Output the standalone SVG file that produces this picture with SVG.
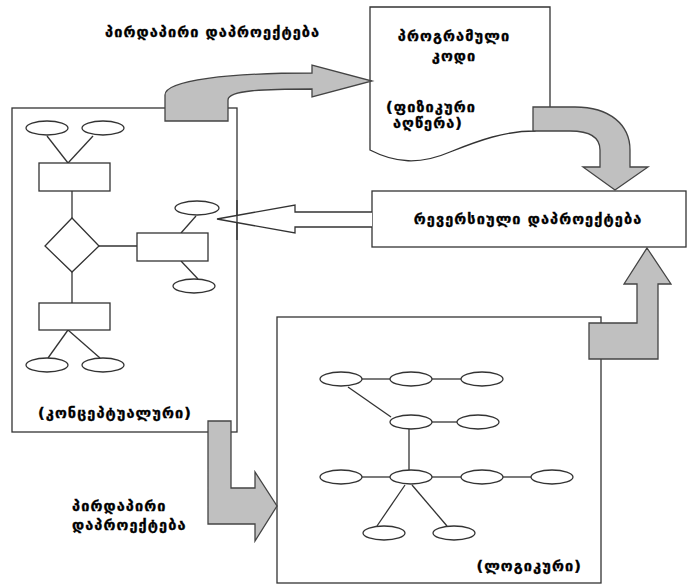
<svg xmlns="http://www.w3.org/2000/svg" width="689" height="585" viewBox="0 0 689 585">
<style>
.box{fill:#fff;stroke:#333;stroke-width:1.3}
.el{fill:#fff;stroke:#333;stroke-width:1.3}
.ln{stroke:#333;stroke-width:1.3;fill:none}
.big{fill:#c0c0c0;stroke:#444;stroke-width:1.3;stroke-linejoin:miter}
.hollow{fill:#fff;stroke:#333;stroke-width:1.3}
text{font-family:"DejaVu Sans","Noto Sans",sans-serif;font-weight:bold;font-size:14.5px;letter-spacing:1.1px;fill:#000;stroke:#000;stroke-width:0.35}
</style>
<rect width="689" height="585" fill="#fff"/>

<g id="doc-code">
<path class="box" d="M370,7 L550,7 L550,107 L535,131 C505,131 480,140 450,152 C420,165 395,163 370,150 Z"/>
<text x="454" y="41" text-anchor="middle">პროგრამული</text>
<text x="454" y="61" text-anchor="middle">კოდი</text>
<text x="431" y="112" text-anchor="middle">(ფიზიკური</text>
<text x="428" y="128" text-anchor="middle">აღწერა)</text>
</g>

<g id="reverse">
<rect class="box" x="372" y="191" width="314" height="56"/>
<text x="528" y="224" text-anchor="middle">რევერსიული დაპროექტება</text>
</g>

<g id="logical">
<rect class="box" x="277" y="317" width="324" height="266"/>
<g class="ln">
<line x1="362" y1="379" x2="390" y2="379"/>
<line x1="432" y1="379" x2="461" y2="379"/>
<line x1="348" y1="387" x2="391" y2="417"/>
<line x1="432" y1="422" x2="457" y2="422"/>
<line x1="409" y1="429" x2="409" y2="471"/>
<line x1="362" y1="477" x2="390" y2="477"/>
<line x1="432" y1="477" x2="461" y2="477"/>
<line x1="503" y1="477" x2="531" y2="477"/>
<line x1="405" y1="485" x2="377" y2="526"/>
<line x1="412" y1="485" x2="447" y2="526"/>
</g>
<ellipse class="el" cx="341" cy="379" rx="21" ry="7"/>
<ellipse class="el" cx="411" cy="379" rx="21" ry="7"/>
<ellipse class="el" cx="482" cy="379" rx="21" ry="7"/>
<ellipse class="el" cx="411" cy="422" rx="21" ry="7"/>
<ellipse class="el" cx="478" cy="422" rx="21" ry="7"/>
<ellipse class="el" cx="341" cy="477" rx="21" ry="7"/>
<ellipse class="el" cx="411" cy="477" rx="21" ry="7"/>
<ellipse class="el" cx="482" cy="477" rx="21" ry="7"/>
<ellipse class="el" cx="552" cy="477" rx="21" ry="7"/>
<ellipse class="el" cx="384" cy="533" rx="21" ry="7"/>
<ellipse class="el" cx="454" cy="533" rx="21" ry="7"/>
<text x="582" y="571" text-anchor="end">(ლოგიკური)</text>
</g>

<g id="conceptual">
<rect class="box" x="12" y="108" width="225" height="324"/>
<g class="ln">
<line x1="47" y1="136" x2="68" y2="163"/>
<line x1="93" y1="136" x2="68" y2="163"/>
<line x1="72" y1="191" x2="72" y2="218"/>
<line x1="99" y1="246" x2="137" y2="246"/>
<line x1="196" y1="216" x2="181" y2="233"/>
<line x1="181" y1="261" x2="198" y2="279"/>
<line x1="72" y1="272" x2="72" y2="303"/>
<line x1="68" y1="330" x2="48" y2="358"/>
<line x1="68" y1="330" x2="100" y2="358"/>
</g>
<ellipse class="el" cx="47" cy="128" rx="21" ry="7"/>
<ellipse class="el" cx="103" cy="128" rx="21" ry="7"/>
<rect class="box" x="39" y="163" width="71" height="28"/>
<polygon class="box" points="72,218 99,246 72,272 45,246"/>
<rect class="box" x="137" y="233" width="71" height="28"/>
<ellipse class="el" cx="197" cy="208" rx="22" ry="7"/>
<ellipse class="el" cx="194" cy="286" rx="21" ry="7"/>
<rect class="box" x="39" y="303" width="71" height="27"/>
<ellipse class="el" cx="47" cy="365" rx="21" ry="7"/>
<ellipse class="el" cx="103" cy="365" rx="21" ry="7"/>
<text x="115" y="418" text-anchor="middle">(კონცეპტუალური)</text>
</g>

<g id="connectors">
<path class="hollow" d="M372,212 L295,212 L295,205 L217,219 L295,233 L295,227 L372,227"/>
<line class="ln" x1="237" y1="200" x2="237" y2="240"/>
<path class="big" d="M165,121 L165,95 C165,80 230,73 312,73 L312,65 L372,81 L312,97 L312,89 C265,89 228,90 228,100 L228,121 Z"/>
<path class="big" d="M533,107 L575,107 C610,107 630,125 630,150 L630,167 L648,167 L615,190 L583,167 L600,167 L600,150 C600,138 590,131 570,131 L533,131 Z"/>
<path class="big" d="M647,248 L671,284 L658,284 L658,359 L589,359 L589,323 L637,323 L637,284 L624,284 Z"/>
<path class="big" d="M208,421 L231,421 L231,488 L255,488 L255,472 L277,506 L255,541 L255,524 L208,524 Z"/>
</g>

<g id="labels">
<text x="105" y="37">პირდაპირი დაპროექტება</text>
<text x="72" y="511">პირდაპირი</text>
<text x="72" y="530">დაპროექტება</text>
</g>
</svg>
